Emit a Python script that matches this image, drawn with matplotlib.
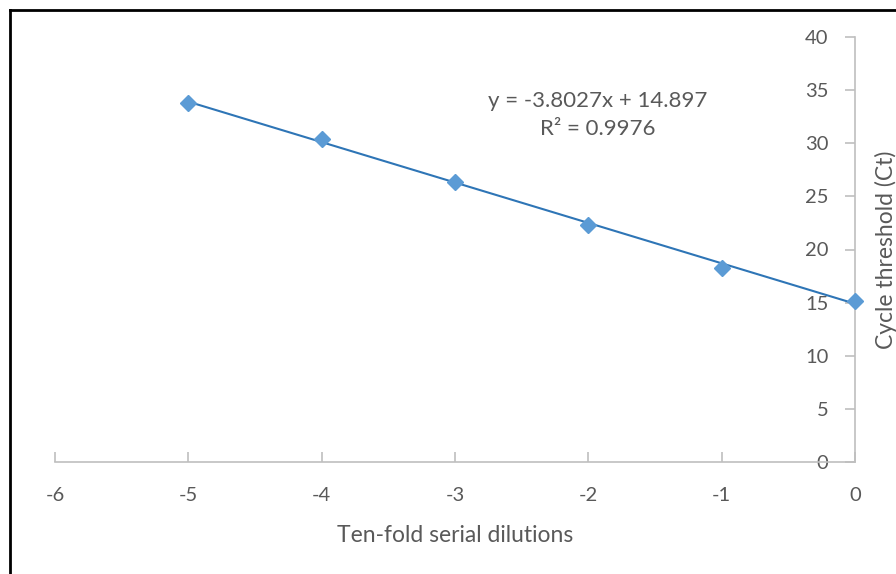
import matplotlib
matplotlib.use("Agg")
import matplotlib.pyplot as plt
import numpy as np
from matplotlib.lines import Line2D

# data
dilutions = [-5, -4, -3, -2, -1, 0]
ct_values = [33.8, 30.4, 26.4, 22.3, 18.3, 15.2]
slope = -3.8027
intercept = 14.897
r_squared = 0.9976

x_ticks = [-6, -5, -4, -3, -2, -1, 0]
y_ticks = [0, 5, 10, 15, 20, 25, 30, 35, 40]

plt.rcParams['font.family'] = ['Lato', 'DejaVu Sans']
plt.rcParams['axes.unicode_minus'] = False
TEXT = '#595959'
AXIS = '#BFBFBF'

W, H = 896, 574
fig = plt.figure(figsize=(W / 100, H / 100), dpi=100)
ax = fig.add_axes([55 / W, (H - 462) / H, 800 / W, 425 / H])

# trendline
xs = np.array([dilutions[0], dilutions[-1]], dtype=float)
ax.plot(xs, slope * xs + intercept, color='#2E75B6', lw=1.5, zorder=2)
ax.plot(dilutions, ct_values, linestyle='none', marker='D', ms=8.5,
        color='#5B9BD5', markeredgecolor='#5B9BD5', zorder=3, clip_on=False)

ax.set_xlim(-6, 0)
ax.set_ylim(0, 40)
ax.set_xticks(x_ticks)
ax.set_yticks(y_ticks)

for s in ['top', 'right']:
    ax.spines[s].set_visible(False)
ax.spines['left'].set_position(('data', 0))
ax.spines['left'].set_color(AXIS)
ax.spines['bottom'].set_color(AXIS)
ax.spines['left'].set_linewidth(1.2)
ax.spines['bottom'].set_linewidth(1.2)

ax.tick_params(axis='x', direction='in', length=7, width=1.2, color=AXIS,
               pad=18, labelsize=14.5, labelcolor=TEXT)
ax.tick_params(axis='y', direction='out', length=7, width=1.2, color=AXIS,
               pad=12, labelsize=14.5, labelcolor=TEXT)

ax.set_xlabel('Ten-fold serial dilutions', fontsize=16.5, color=TEXT, labelpad=15)
ax.yaxis.set_label_position('right')
ax.set_ylabel('Cycle threshold (Ct)', fontsize=16.5, color=TEXT, labelpad=14)

ax.text(-1.93, 32.7, f'y = {slope}x + {intercept}\nR² = {r_squared}',
        ha='center', va='center', fontsize=16, color=TEXT, linespacing=1.5)

# outer chart frame
fig.add_artist(Line2D([10 / W, 10 / W], [0, 1 - 10 / H], transform=fig.transFigure,
                      color='black', lw=2))
fig.add_artist(Line2D([10 / W, 1], [1 - 10 / H, 1 - 10 / H], transform=fig.transFigure,
                      color='black', lw=2))

fig.savefig('out.png', dpi=100)
